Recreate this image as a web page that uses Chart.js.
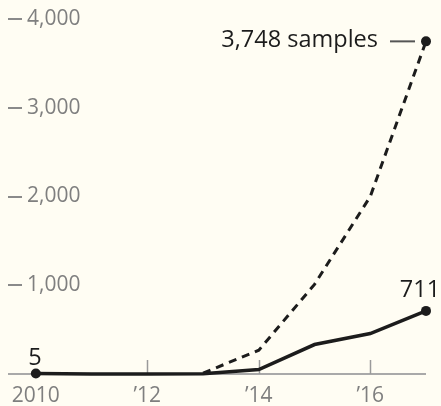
<!DOCTYPE html>
<html>
<head>
<meta charset="utf-8">
<script src="https://cdn.jsdelivr.net/npm/chart.js@4/dist/chart.umd.min.js"></script>
<style>
  html, body { margin: 0; padding: 0; background: #fffdf3; }
  #wrap { width: 441px; height: 406px; }
</style>
</head>
<body>
<div id="wrap"><canvas id="c" width="441" height="406"></canvas></div>
<script>
const years = [2010, 2011, 2012, 2013, 2014, 2015, 2016, 2017];
const positives = [5, 0, 0, 3, 50, 332, 456, 711];
const samples = [null, null, null, 10, 268, 1010, 2000, 3748];
const xTickYears = [2010, 2012, 2014, 2016];
const yTickValues = [0, 1000, 2000, 3000, 4000];

const GRAY = '#7f7f7f';
const INK = '#1c1c1c';
const FONT = "'Open Sans', sans-serif";

const toPts = (vals) => years.map((x, i) => ({ x, y: vals[i] }));

const decor = {
  id: 'decor',
  beforeDatasetsDraw(chart) {
    const { ctx, chartArea, scales } = chart;
    const x = scales.x, y = scales.y;
    ctx.save();
    ctx.strokeStyle = '#8a8a8a';
    ctx.lineWidth = 2;
    yTickValues.forEach(v => {
      if (v === 0) return;
      const py = Math.round(y.getPixelForValue(v));
      ctx.beginPath();
      ctx.moveTo(chartArea.left, py);
      ctx.lineTo(chartArea.left + 14, py);
      ctx.stroke();
    });
    ctx.strokeStyle = '#9a9a9a';
    ctx.lineWidth = 1.5;
    const base = y.getPixelForValue(0);
    xTickYears.forEach(v => {
      if (v === 2010) return;
      const px = Math.round(x.getPixelForValue(v)) + 0.5;
      ctx.beginPath();
      ctx.moveTo(px, base);
      ctx.lineTo(px, base - 14);
      ctx.stroke();
    });
    ctx.restore();
  },
  afterDatasetsDraw(chart) {
    const { ctx, scales } = chart;
    const x = scales.x, y = scales.y;
    ctx.save();
    ctx.fillStyle = INK;
    ctx.font = "23.5px " + FONT;
    ctx.textBaseline = 'alphabetic';
    ctx.textAlign = 'center';
    ctx.fillText('5', x.getPixelForValue(2010) - 1, y.getPixelForValue(positives[0]) - 9);
    ctx.fillText('711', x.getPixelForValue(2017) - 6, y.getPixelForValue(positives[7]) - 14);
    const sx = x.getPixelForValue(2017), sy = y.getPixelForValue(samples[7]);
    ctx.textAlign = 'right';
    ctx.fillText('3,748 samples', sx - 48, sy + 6);
    ctx.strokeStyle = '#555';
    ctx.lineWidth = 2;
    ctx.beginPath();
    ctx.moveTo(sx - 36, sy);
    ctx.lineTo(sx - 11, sy);
    ctx.stroke();
    ctx.restore();
  }
};

new Chart(document.getElementById('c'), {
  type: 'line',
  data: {
    datasets: [
      {
        label: 'samples',
        data: toPts(samples),
        borderColor: INK,
        backgroundColor: INK,
        borderWidth: 3,
        borderDash: [8, 6],
        pointRadius: [0, 0, 0, 0, 0, 0, 0, 5],
        pointBorderWidth: 0,
        pointHoverRadius: 0,
        tension: 0,
        spanGaps: false,
        clip: false,
        order: 2
      },
      {
        label: 'positives',
        data: toPts(positives),
        borderColor: INK,
        backgroundColor: INK,
        borderWidth: 3.5,
        pointRadius: [5, 0, 0, 0, 0, 0, 0, 5],
        pointBorderWidth: 0,
        pointHoverRadius: 0,
        tension: 0,
        clip: false,
        order: 1
      }
    ]
  },
  options: {
    responsive: false,
    animation: false,
    events: [],
    layout: { padding: { left: 8, right: 15, top: 19, bottom: 0 } },
    plugins: { legend: { display: false }, tooltip: { enabled: false } },
    scales: {
      x: {
        type: 'linear',
        min: 2009.5,
        max: 2017,
        afterBuildTicks: (s) => { s.ticks = xTickYears.map(v => ({ value: v })); },
        afterFit: (s) => { s.height = 32; s.paddingLeft = 0; s.paddingRight = 0; },
        grid: { display: false, drawTicks: false },
        border: { display: false },
        ticks: {
          color: GRAY,
          font: { family: FONT, size: 21 },
          padding: 9,
          maxRotation: 0,
          autoSkip: false,
          callback: (v) => v === 2010 ? '2010' : '\u2019' + String(v).slice(2)
        }
      },
      y: {
        min: 0,
        max: 4000,
        afterBuildTicks: (s) => { s.ticks = yTickValues.map(v => ({ value: v })); },
        afterFit: (s) => { s.width = 0; s.paddingTop = 0; s.paddingBottom = 0; },
        border: { display: false },
        grid: {
          drawTicks: false,
          lineWidth: 2,
          color: (c) => (c.tick && c.tick.value === 0) ? '#a9a9a9' : 'rgba(0,0,0,0)'
        },
        ticks: {
          mirror: true,
          padding: 19,
          color: GRAY,
          font: { family: FONT, size: 21 },
          callback: (v) => v === 0 ? '' : v.toLocaleString('en-US')
        }
      }
    }
  },
  plugins: [decor]
});
</script>
</body>
</html>
